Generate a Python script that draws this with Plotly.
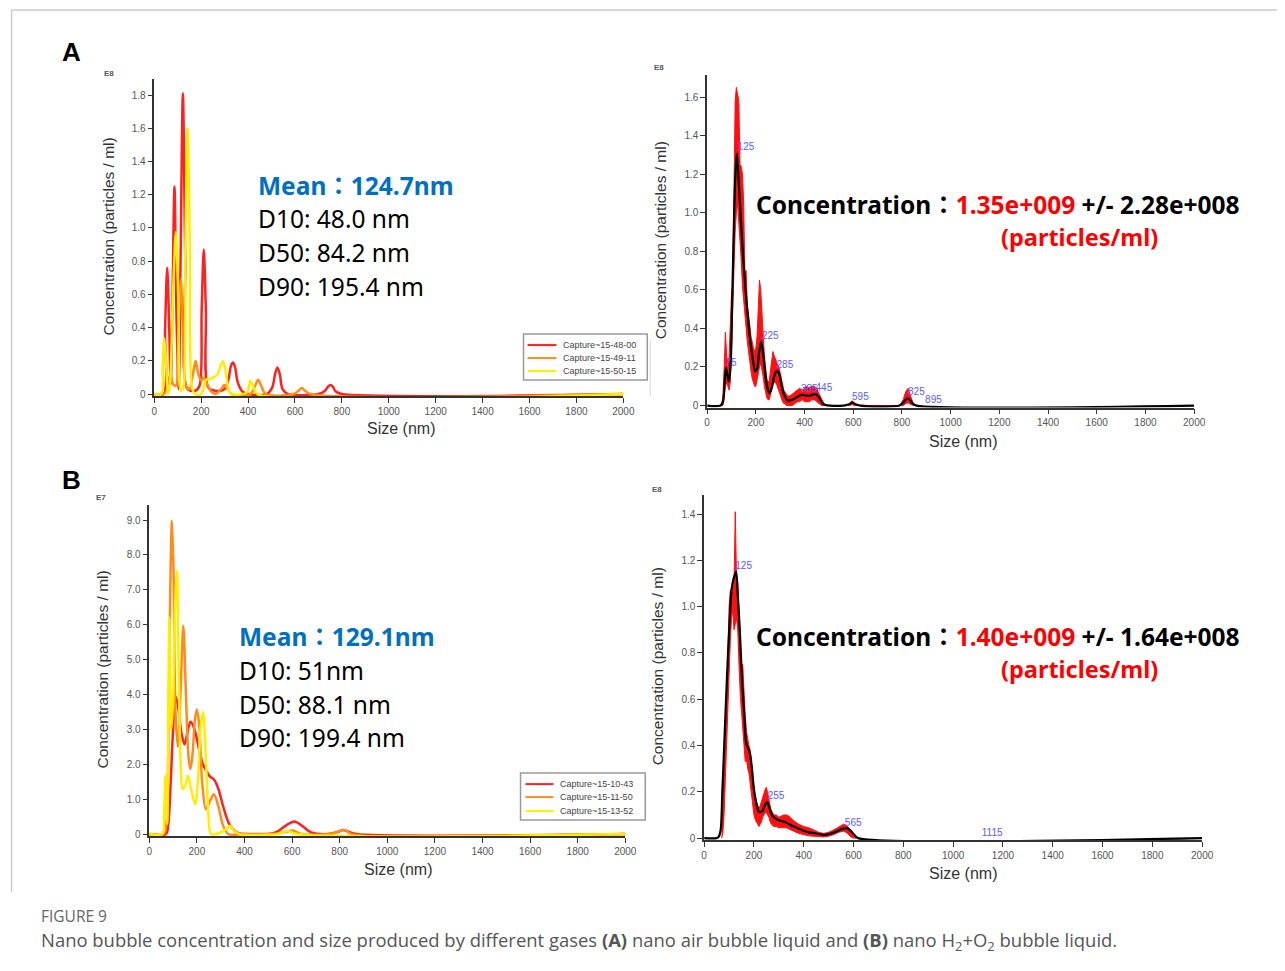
import plotly.graph_objects as go

# Positions below are given in picture pixels. The page body has
# an 8px margin and the captured page is slightly rescaled, so they are converted here.
OFF = 8
SX, DX, SY = 0.9904, 1.5, 0.9968
W, H = 1290, 962

def fx(p):
    return ((p - DX) / SX - OFF) / W

def fy(p):
    return 1 - (p / SY - OFF) / H

# ---------------- DATA ----------------
sizes_ticks = [0, 200, 400, 600, 800, 1000, 1200, 1400, 1600, 1800, 2000]
size_tick_labels = [str(v) for v in sizes_ticks]

# Panel A (left): three captures, concentration in E8 particles/ml
a_red_x = [0, 40, 46, 55, 64, 70, 77, 86, 95, 104, 112, 122, 132, 142, 175, 193, 202, 211, 220, 230,
           260, 300, 318, 327, 336, 345, 356, 380, 480, 503, 515, 525, 535, 547, 570, 700, 728, 741,
           751, 761, 774, 800, 2000]
a_red_y = [0, 0, 0.38, 0.76, 0.38, 0.06, 0.5, 1.25, 0.45, 0.03, 0.8, 1.81, 0.8, 0.03, 0.02, 0.05,
           0.5, 0.87, 0.5, 0.04, 0.02, 0.03, 0.1, 0.17, 0.19, 0.16, 0.07, 0.01, 0.0, 0.04, 0.12,
           0.16, 0.12, 0.03, 0, 0, 0.02, 0.045, 0.055, 0.045, 0.015, 0, 0]
a_orange_x = [0, 40, 55, 68, 80, 92, 102, 113, 124, 135, 150, 165, 176, 188, 200, 211, 222, 240, 260,
              285, 298, 312, 330, 410, 430, 443, 456, 475, 595, 615, 629, 643, 665, 2000]
a_orange_y = [0, 0, 0.03, 0.12, 0.06, 0.05, 0.33, 0.69, 0.33, 0.05, 0.03, 0.12, 0.2, 0.12, 0.08, 0.1,
              0.07, 0.02, 0.0, 0.03, 0.055, 0.03, 0.0, 0, 0.05, 0.086, 0.05, 0.0, 0, 0.02, 0.036,
              0.02, 0, 0]
a_yellow_x = [0, 30, 36, 43, 51, 58, 66, 80, 92, 103, 113, 122, 132, 142, 152, 162, 175, 200, 221,
              235, 252, 270, 283, 293, 303, 318, 330, 395, 409, 423, 440, 2000]
a_yellow_y = [0, 0, 0.17, 0.336, 0.17, 0.0, 0.05, 0.6, 0.976, 0.55, 0.02, 0.03, 0.85, 1.6, 0.85, 0.03,
              0.0, 0.0, 0.086, 0.09, 0.1, 0.12, 0.17, 0.197, 0.15, 0.02, 0.0, 0.01, 0.08, 0.04, 0.0, 0]
a_names = ["Capture~15-48-00", "Capture~15-49-11", "Capture~15-50-15"]

# Panel A (right): averaged distribution (E8) with error band
a_mean_x = [0, 55, 65, 72, 77, 83, 89, 96, 103, 110, 116, 122, 130, 138, 145, 152, 159, 168, 175, 182,
            190, 197, 205, 213, 222, 230, 240, 248, 256, 265, 275, 283, 289, 297, 305, 315, 331, 350,
            370, 390, 405, 420, 443, 455, 465, 480, 560, 585, 596, 607, 630, 790, 805, 815, 823, 832,
            845, 860, 2000]
a_mean_y = [0, 0, 0.02, 0.12, 0.194, 0.16, 0.125, 0.2, 0.55, 0.95, 1.2, 1.306, 1.15, 0.98, 0.826,
            0.7, 0.58, 0.45, 0.36, 0.29, 0.22, 0.177, 0.19, 0.27, 0.332, 0.27, 0.15, 0.09, 0.064,
            0.09, 0.15, 0.175, 0.18, 0.16, 0.11, 0.06, 0.026, 0.03, 0.045, 0.055, 0.052, 0.05, 0.059,
            0.05, 0.03, 0.005, 0, 0.008, 0.016, 0.008, 0, 0, 0.015, 0.03, 0.038, 0.03, 0.01, 0, 0]
a_band_x = [60, 65, 70, 75, 80, 85, 90, 95, 100, 105, 110, 115, 120, 125, 130, 135, 140, 145, 150, 155,
            160, 165, 170, 175, 180, 185, 190, 195, 200, 205, 210, 215, 220, 225, 230, 235, 240, 245,
            250, 255, 260, 265, 270, 275, 280, 285, 290, 295, 300, 305, 310, 315, 320, 325, 330,
            340, 350, 360, 370, 380, 390, 400, 410, 420, 430, 440, 450, 460, 470, 480, 490,
            575, 585, 595, 605, 615, 790, 805, 815, 825, 835, 850]
a_band_hi = [0.0, 0.06, 0.2, 0.38, 0.26, 0.22, 0.25, 0.4, 0.58, 0.62, 1.05, 1.58, 1.65, 1.62, 1.58,
             1.25, 1.24, 1.2, 1.05, 0.68, 0.7, 0.52, 0.48, 0.42, 0.36, 0.32, 0.3, 0.28, 0.3, 0.36,
             0.52, 0.65, 0.6, 0.48, 0.36, 0.26, 0.2, 0.14, 0.12, 0.13, 0.18, 0.22, 0.28, 0.26, 0.24,
             0.23, 0.21, 0.2, 0.17, 0.13, 0.1, 0.08, 0.07, 0.06, 0.05,
             0.05, 0.06, 0.07, 0.08, 0.09, 0.08, 0.09, 0.1, 0.09, 0.1, 0.1, 0.09, 0.06, 0.03, 0.01, 0.0,
             0, 0.01, 0.025, 0.01, 0, 0, 0.03, 0.07, 0.09, 0.05, 0]
a_band_lo = [0, 0.0, 0.05, 0.1, 0.12, 0.1, 0.08, 0.12, 0.3, 0.45, 0.7, 0.9, 1.0, 1.05, 0.95, 0.85,
             0.75, 0.62, 0.55, 0.48, 0.4, 0.33, 0.28, 0.22, 0.18, 0.14, 0.12, 0.1, 0.1, 0.12, 0.16,
             0.2, 0.22, 0.2, 0.15, 0.1, 0.07, 0.04, 0.03, 0.03, 0.05, 0.08, 0.11, 0.12, 0.12, 0.11,
             0.1, 0.08, 0.06, 0.04, 0.02, 0.01, 0.01, 0.0, 0.0,
             0.0, 0.0, 0.01, 0.02, 0.02, 0.03, 0.02, 0.02, 0.02, 0.03, 0.03, 0.02, 0.01, 0.0, 0, 0,
             0, 0, 0.005, 0, 0, 0, 0, 0.01, 0.015, 0.005, 0]
a_peak_x = [75, 125, 225, 285, 385, 445, 595, 825, 895]
a_peak_y = [0.19, 1.31, 0.33, 0.18, 0.055, 0.06, 0.016, 0.04, 0.0]

# Panel B (left): three captures, concentration in E7 particles/ml
b_red_x = [0, 70, 80, 90, 100, 110, 120, 135, 148, 160, 173, 190, 210, 225, 241, 255, 271, 290, 310,
           335, 360, 377, 400, 500, 540, 575, 610, 645, 680, 750, 790, 814, 840, 870, 2000]
b_red_y = [0, 0, 0.3, 1.5, 3.0, 3.95, 3.7, 2.9, 2.57, 2.9, 3.22, 3.0, 2.4, 2.0, 1.8, 1.65, 1.57, 1.3,
           0.8, 0.3, 0.08, 0.02, 0, 0, 0.08, 0.25, 0.36, 0.22, 0.05, 0, 0.06, 0.12, 0.06, 0, 0]
b_orange_x = [0, 60, 70, 80, 88, 95, 102, 110, 120, 132, 143, 154, 165, 173, 183, 192, 200, 210, 222,
              238, 255, 271, 290, 310, 332, 400, 540, 570, 603, 640, 760, 790, 821, 850, 2000]
b_orange_y = [0, 0, 0.2, 2.5, 7.0, 8.98, 7.5, 3.5, 2.5, 4.2, 5.97, 4.0, 2.2, 1.86, 2.4, 3.3, 3.57, 3.1,
              1.5, 0.71, 0.95, 1.14, 0.8, 0.25, 0.0, 0.0, 0.02, 0.06, 0.1, 0.0, 0.0, 0.06, 0.12, 0.0, 0]
b_yellow_x = [0, 55, 62, 68, 72, 76, 84, 92, 100, 108, 116, 124, 132, 140, 152, 163, 175, 193, 205,
              215, 226, 237, 248, 259, 280, 325, 339, 355, 380, 540, 580, 620, 2000]
b_yellow_y = [0, 0, 0.5, 1.67, 1.2, 0.3, 6.2, 3.0, 3.8, 6.5, 7.55, 4.5, 2.0, 1.29, 1.4, 1.67, 1.3, 0.86,
              1.6, 3.0, 3.5, 2.3, 0.6, 0.0, 0.0, 0.15, 0.24, 0.1, 0.0, 0.0, 0.09, 0.0, 0]
b_names = ["Capture~15-10-43", "Capture~15-11-50", "Capture~15-13-52"]

# Panel B (right): averaged distribution (E8) with error band
b_mean_x = [0, 50, 58, 66, 73, 81, 88, 96, 103, 110, 118, 128, 135, 143, 148, 154, 162, 169, 176, 184,
            192, 199, 210, 221, 232, 243, 253, 262, 272, 287, 305, 320, 338, 360, 380, 397, 420, 450,
            478, 505, 530, 555, 574, 590, 605, 618, 2000]
b_mean_y = [0, 0, 0.005, 0.033, 0.2, 0.41, 0.6, 0.8, 0.95, 1.07, 1.12, 1.15, 1.05, 0.9, 0.78, 0.65,
            0.52, 0.41, 0.39, 0.365, 0.3, 0.22, 0.15, 0.113, 0.115, 0.14, 0.156, 0.13, 0.1, 0.084,
            0.075, 0.072, 0.062, 0.05, 0.04, 0.033, 0.025, 0.02, 0.014, 0.018, 0.028, 0.04, 0.043,
            0.03, 0.012, 0, 0]
b_band_x = [70, 75, 80, 85, 90, 95, 100, 105, 110, 115, 120, 125, 130, 135, 140, 145, 150, 155, 160,
            165, 170, 175, 180, 185, 190, 195, 200, 205, 210, 215, 220, 225, 230, 235, 240, 245, 250,
            255, 260, 265, 270, 280, 290, 300, 310, 320, 330, 340, 350, 360, 380, 400, 420, 440, 460,
            480, 500, 520, 540, 560, 570, 580, 590, 600, 610]
b_band_hi = [0.08, 0.2, 0.33, 0.5, 0.55, 0.78, 1.0, 1.07, 1.08, 1.05, 1.1, 1.41, 1.12, 1.1, 0.95, 0.82,
             0.74, 0.75, 0.6, 0.53, 0.46, 0.42, 0.4, 0.38, 0.32, 0.25, 0.2, 0.16, 0.15, 0.14, 0.13,
             0.14, 0.16, 0.18, 0.2, 0.21, 0.22, 0.2, 0.17, 0.14, 0.12, 0.1, 0.1, 0.09, 0.095, 0.1, 0.1,
             0.095, 0.085, 0.075, 0.06, 0.05, 0.045, 0.035, 0.025, 0.02, 0.025, 0.035, 0.048, 0.06,
             0.055, 0.045, 0.03, 0.015, 0.0]
b_band_lo = [0.0, 0.02, 0.1, 0.25, 0.4, 0.5, 0.7, 0.85, 0.95, 0.98, 0.9, 0.92, 0.95, 0.9, 0.75, 0.62,
             0.55, 0.5, 0.4, 0.33, 0.34, 0.3, 0.28, 0.25, 0.2, 0.15, 0.1, 0.08, 0.07, 0.06, 0.05, 0.06,
             0.07, 0.09, 0.1, 0.11, 0.11, 0.1, 0.09, 0.07, 0.06, 0.05, 0.05, 0.045, 0.045, 0.045, 0.045,
             0.04, 0.035, 0.03, 0.02, 0.015, 0.01, 0.008, 0.005, 0.005, 0.008, 0.015, 0.025, 0.03,
             0.025, 0.015, 0.005, 0.0, 0.0]
b_peak_x = [125, 255, 565, 1115]
b_peak_y = [1.15, 0.156, 0.043, 0.0]

# ---------------- STYLE / LAYOUT ----------------
RED, ORANGE, YELLOW = "#ff2020", "#ff8c1a", "#ffee00"
AX_FONT = "Arial, Liberation Sans, sans-serif"
TXT_FONT = "Noto Sans, Noto Sans CJK TC, sans-serif"

# panel geometry in picture pixels: x0/x2000 px, y0 px, reference tick value/px, axis top px
panels = {
    "a1": dict(x0=153, x1=623, y0=394, rv=1.8, rp=95, top=79, ticks=[0, .2, .4, .6, .8, 1.0, 1.2, 1.4, 1.6, 1.8]),
    "a2": dict(x0=707, x1=1195, y0=405.5, rv=1.6, rp=97, top=75, ticks=[0, .2, .4, .6, .8, 1.0, 1.2, 1.4, 1.6]),
    "b1": dict(x0=148, x1=625, y0=834, rv=9.0, rp=520, top=505, ticks=[0, 1, 2, 3, 4, 5, 6, 7, 8, 9]),
    "b2": dict(x0=704, x1=1203, y0=838, rv=1.4, rp=514, top=495, ticks=[0, .2, .4, .6, .8, 1.0, 1.2, 1.4]),
}
axis_ids = {"a1": ("x", "y"), "a2": ("x2", "y2"), "b1": ("x3", "y3"), "b2": ("x4", "y4")}
PAD = 2.0

fig = go.Figure()

def add_line(pid, xs, ys, color, name, width=2.5, shape="spline"):
    xa, ya = axis_ids[pid]
    fig.add_trace(go.Scatter(x=xs, y=ys, mode="lines", name=name, xaxis=xa, yaxis=ya,
                             line=dict(color=color, width=width, shape=shape, smoothing=0.9),
                             showlegend=False, hoverinfo="skip"))

def add_band(pid, xs, hi, lo):
    xa, ya = axis_ids[pid]
    fig.add_trace(go.Scatter(x=list(xs) + list(xs)[::-1], y=list(hi) + list(lo)[::-1],
                             mode="lines", fill="toself", fillcolor="#ff1010",
                             line=dict(color="#ff1010", width=1), xaxis=xa, yaxis=ya,
                             showlegend=False, hoverinfo="skip"))

def add_peaks(pid, xs, ys):
    xa, ya = axis_ids[pid]
    fig.add_trace(go.Scatter(x=xs, y=ys, mode="text", text=[str(v) for v in xs],
                             textposition="top right", xaxis=xa, yaxis=ya,
                             textfont=dict(family=AX_FONT, size=10, color="#5a5aff"),
                             showlegend=False, hoverinfo="skip", cliponaxis=False))

add_line("a1", a_red_x, a_red_y, RED, a_names[0])
add_line("a1", a_orange_x, a_orange_y, ORANGE, a_names[1])
add_line("a1", a_yellow_x, a_yellow_y, YELLOW, a_names[2])

add_band("a2", a_band_x, a_band_hi, a_band_lo)
add_line("a2", a_mean_x, a_mean_y, "black", "mean", width=2.2)
add_peaks("a2", a_peak_x, a_peak_y)

add_line("b1", b_red_x, b_red_y, RED, b_names[0])
add_line("b1", b_orange_x, b_orange_y, ORANGE, b_names[1])
add_line("b1", b_yellow_x, b_yellow_y, YELLOW, b_names[2])

add_band("b2", b_band_x, b_band_hi, b_band_lo)
add_line("b2", b_mean_x, b_mean_y, "black", "mean", width=2.2)
add_peaks("b2", b_peak_x, b_peak_y)

layout = dict(width=W, height=H, margin=dict(l=0, r=0, t=0, b=0),
              paper_bgcolor="white", plot_bgcolor="white", showlegend=False)

for pid, p in panels.items():
    xa, ya = axis_ids[pid]
    xkey = "xaxis" + xa[1:]
    ykey = "yaxis" + ya[1:]
    scale = (p["y0"] - p["rp"]) / p["rv"]
    ylo = -PAD / scale
    yhi = (p["y0"] - p["top"]) / scale
    common = dict(showline=True, linecolor="#333", linewidth=1.5, ticks="outside", ticklen=5,
                  tickcolor="#333", tickwidth=1.2, showgrid=False, zeroline=False,
                  tickfont=dict(family=AX_FONT, size=10, color="#555"), fixedrange=True)
    layout[xkey] = dict(domain=[fx(p["x0"]), fx(p["x1"])], range=[0, 2000], anchor=ya,
                        tickvals=sizes_ticks, ticktext=size_tick_labels, **common)
    layout[ykey] = dict(domain=[fy(p["y0"] + PAD), fy(p["top"])], range=[ylo, yhi],
                        anchor=xa, tickvals=p["ticks"],
                        ticktext=["0" if v == 0 else "{:.1f}".format(v) for v in p["ticks"]], **common)

fig.update_layout(**layout)

ann = []
def A(xp, yp, text, size, color="black", family=TXT_FONT, xanchor="left", yanchor="middle", angle=0):
    ann.append(dict(x=fx(xp), y=fy(yp), xref="paper", yref="paper", text=text, showarrow=False,
                    xanchor=xanchor, yanchor=yanchor, textangle=angle, borderpad=0,
                    font=dict(family=family, size=size, color=color)))

# panel letters
A(60, 52, "<b>A</b>", 26, family=AX_FONT)
A(60, 480, "<b>B</b>", 26, family=AX_FONT)

# exponent labels
A(108, 73, "<b>E8</b>", 8, "#556", AX_FONT, xanchor="center")
A(659, 67, "<b>E8</b>", 8, "#556", AX_FONT, xanchor="center")
A(100, 497, "<b>E7</b>", 8, "#556", AX_FONT, xanchor="center")
A(657, 489, "<b>E8</b>", 8, "#556", AX_FONT, xanchor="center")

# axis titles
ytitle = "Concentration (particles / ml)"
A(107, 236, ytitle, 15.5, "#333", AX_FONT, xanchor="center", angle=-90)
A(660, 240, ytitle, 15.5, "#333", AX_FONT, xanchor="center", angle=-90)
A(101, 669, ytitle, 15.5, "#333", AX_FONT, xanchor="center", angle=-90)
A(657, 666, ytitle, 15.5, "#333", AX_FONT, xanchor="center", angle=-90)
A(400, 428, "Size (nm)", 16, "#333", AX_FONT, xanchor="center")
A(963, 441, "Size (nm)", 16, "#333", AX_FONT, xanchor="center")
A(397, 869, "Size (nm)", 16, "#333", AX_FONT, xanchor="center")
A(963, 873, "Size (nm)", 16, "#333", AX_FONT, xanchor="center")

# statistics text
BLUE = "#0070c0"
A(256, 185, "<b>Mean：124.7nm</b>", 24.5, BLUE)
A(256, 218, "D10: 48.0 nm", 24.5)
A(256, 252, "D50: 84.2 nm", 24.5)
A(256, 286, "D90: 195.4 nm", 24.5)
A(237, 636, "<b>Mean：129.1nm</b>", 24.5, BLUE)
A(237, 670, "D10: 51nm", 24.5)
A(237, 704, "D50: 88.1 nm", 24.5)
A(237, 737, "D90: 199.4 nm", 24.5)

A(755, 204, "<b>Concentration：<span style='color:#ff0000'>1.35e+009</span> +/- 2.28e+008</b>", 24.5)
A(1000, 237, "<b>(particles/ml)</b>", 23.5, "#ff0000")
A(755, 636, "<b>Concentration：<span style='color:#ff0000'>1.40e+009</span> +/- 1.64e+008</b>", 24.5)
A(1000, 669, "<b>(particles/ml)</b>", 23.5, "#ff0000")

# manual legends
shapes = []
def legend_box(x0, x1, y0, y1, rows, line_x0, line_x1, text_x, names):
    shapes.append(dict(type="rect", xref="paper", yref="paper", x0=fx(x0), x1=fx(x1),
                       y0=fy(y1), y1=fy(y0), line=dict(color="#999", width=1.5),
                       fillcolor="white", layer="above"))
    for ry, col, nm in zip(rows, [RED, ORANGE, YELLOW], names):
        shapes.append(dict(type="line", xref="paper", yref="paper", x0=fx(line_x0), x1=fx(line_x1),
                           y0=fy(ry), y1=fy(ry), line=dict(color=col, width=2), layer="above"))
        A(text_x, ry, nm, 9, "#444", AX_FONT)

legend_box(523, 647, 334, 380, [345, 358, 371], 527, 556, 562, a_names)
legend_box(520, 645, 773, 820, [784, 797, 811], 525, 553, 559, b_names)

# frame lines and crop edge
shapes.append(dict(type="line", xref="paper", yref="paper", x0=fx(10), x1=1.0, y0=fy(10), y1=fy(10),
                   line=dict(color="#cccccc", width=1.5)))
shapes.append(dict(type="line", xref="paper", yref="paper", x0=fx(10), x1=fx(10), y0=fy(10), y1=fy(892),
                   line=dict(color="#cccccc", width=1.5)))
shapes.append(dict(type="line", xref="paper", yref="paper", x0=fx(650), x1=fx(650), y0=fy(340), y1=fy(396),
                   line=dict(color="#dddddd", width=1.2)))

# caption
CAP_FONT = "Open Sans, Noto Sans, sans-serif"
A(38, 916, "FIGURE 9", 15.5, "#666", CAP_FONT)
A(38, 941, "Nano bubble concentration and size produced by different gases <b>(A)</b> nano air bubble liquid "
           "and <b>(B)</b> nano H<sub>2</sub>+O<sub>2</sub> bubble liquid.", 18.45, "#555", CAP_FONT)

fig.update_layout(annotations=ann, shapes=shapes)
fig.write_html("out.html")
